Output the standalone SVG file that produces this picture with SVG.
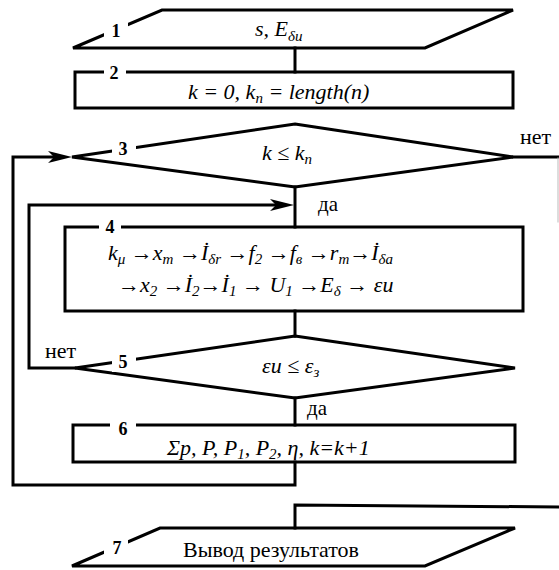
<svg xmlns="http://www.w3.org/2000/svg" width="559" height="570" viewBox="0 0 559 570">
<rect width="559" height="570" fill="#fff"/>
<g id="connectors" fill="none" stroke="#000" stroke-width="3" stroke-linecap="square">
<line x1="295" y1="48" x2="295" y2="72"/>
<line x1="295" y1="187" x2="295" y2="227"/>
<line x1="295" y1="311" x2="295" y2="336"/>
<line x1="295" y1="398" x2="295" y2="425"/>
<polyline points="295,462 295,485 13,485 13,157 60,157"/>
<polygon points="48,151 72,157 48,163 54,157" fill="#000" stroke="none"/>
<polyline points="75,368 29,368 29,205 280,205"/>
<polygon points="270,199 294,205 270,211 276,205" fill="#000" stroke="none"/>
<line x1="513" y1="157" x2="559" y2="157"/>
<line x1="558" y1="158" x2="558" y2="222" stroke="#bbb" stroke-width="1"/>
<polyline points="295,528 295,505 559,507"/>
</g>
<g id="labels" fill="#000">
<text font-family="Times New Roman" font-size="22" x="520" y="144">нет</text>
<text font-family="Times New Roman" font-size="21" x="318" y="211">да</text>
<text font-family="Times New Roman" font-size="22" x="45" y="358">нет</text>
<text font-family="Times New Roman" font-size="21" x="307" y="415">да</text>
</g>
<g id="n1">
<polygon points="162,10 513,10 425,48 73,48" fill="none" stroke="#000" stroke-width="3"/>
<rect x="104" y="22" width="24" height="20" fill="#fff"/>
<text font-family="Times New Roman" font-weight="bold" font-size="18" text-anchor="middle" x="116" y="37">1</text>
<text font-family="Times New Roman" font-style="italic" font-size="22" x="255" y="36">s, E<tspan font-size="15" dy="5">δи</tspan></text>
</g>
<g id="n2">
<rect x="75" y="72" width="438" height="36" fill="none" stroke="#000" stroke-width="3"/>
<rect x="104" y="66" width="22" height="12" fill="#fff"/>
<text font-family="Times New Roman" font-weight="bold" font-size="18" text-anchor="middle" x="114" y="79">2</text>
<text font-family="Times New Roman" font-style="italic" font-size="22" x="188" y="99">k = 0, k<tspan font-size="15" dy="4">n</tspan><tspan dy="-4"> = length(n)</tspan></text>
</g>
<g id="n3">
<polygon points="295,124 513,157 295,187 72,157" fill="none" stroke="#000" stroke-width="3"/>
<rect x="112" y="138" width="24" height="20" fill="#fff"/>
<text font-family="Times New Roman" font-weight="bold" font-size="18" text-anchor="middle" x="123" y="155">3</text>
<text font-family="Times New Roman" font-style="italic" font-size="22" x="262" y="160">k ≤ k<tspan font-size="15" dy="4">n</tspan></text>
</g>
<g id="n4">
<rect x="65" y="227" width="458" height="84" fill="none" stroke="#000" stroke-width="3"/>
<rect x="99" y="220" width="22" height="12" fill="#fff"/>
<text font-family="Times New Roman" font-weight="bold" font-size="18" text-anchor="middle" x="110" y="233">4</text>
<text font-family="Times New Roman" font-style="italic" font-size="22" x="108" y="260">k<tspan font-size="15" dy="4">μ</tspan><tspan dy="-4"> →x</tspan><tspan font-size="15" dy="4">m</tspan><tspan dy="-4"> →İ</tspan><tspan font-size="15" dy="4">δr</tspan><tspan dy="-4"> →f</tspan><tspan font-size="15" dy="4">2</tspan><tspan dy="-4"> →f</tspan><tspan font-size="15" dy="4">в</tspan><tspan dy="-4"> →r</tspan><tspan font-size="15" dy="4">m</tspan><tspan dy="-4">→İ</tspan><tspan font-size="15" dy="4">δa</tspan></text>
<text font-family="Times New Roman" font-style="italic" font-size="22" x="118" y="292">→x<tspan font-size="15" dy="4">2</tspan><tspan dy="-4"> →İ</tspan><tspan font-size="15" dy="4">2</tspan><tspan dy="-4">→İ</tspan><tspan font-size="15" dy="4">1</tspan><tspan dy="-4"> → U</tspan><tspan font-size="15" dy="4">1</tspan><tspan dy="-4"> →E</tspan><tspan font-size="15" dy="4">δ</tspan><tspan dy="-4"> → εи</tspan></text>
</g>
<g id="n5">
<polygon points="295,336 515,368 295,398 75,368" fill="none" stroke="#000" stroke-width="3"/>
<rect x="112" y="352" width="24" height="20" fill="#fff"/>
<text font-family="Times New Roman" font-weight="bold" font-size="18" text-anchor="middle" x="123" y="368">5</text>
<text font-family="Times New Roman" font-style="italic" font-size="22" x="262" y="373">εи ≤ ε<tspan font-size="15" dy="4">з</tspan></text>
</g>
<g id="n6">
<rect x="73" y="425" width="442" height="37" fill="none" stroke="#000" stroke-width="3"/>
<rect x="110" y="419" width="26" height="12" fill="#fff"/>
<text font-family="Times New Roman" font-weight="bold" font-size="18" text-anchor="middle" x="123" y="435">6</text>
<text font-family="Times New Roman" font-style="italic" font-size="22" x="167" y="455">Σp, P, P<tspan font-size="15" dy="4">1</tspan><tspan dy="-4">, P</tspan><tspan font-size="15" dy="4">2</tspan><tspan dy="-4">, η, k=k+1</tspan></text>
</g>
<g id="n7">
<polygon points="160,528 515,528 425,566 72,566" fill="none" stroke="#000" stroke-width="3"/>
<rect x="104" y="538" width="24" height="20" fill="#fff"/>
<text font-family="Times New Roman" font-weight="bold" font-size="18" text-anchor="middle" x="117" y="554">7</text>
<text font-family="Times New Roman" font-size="22" x="183" y="557">Вывод результатов</text>
</g>
</svg>
